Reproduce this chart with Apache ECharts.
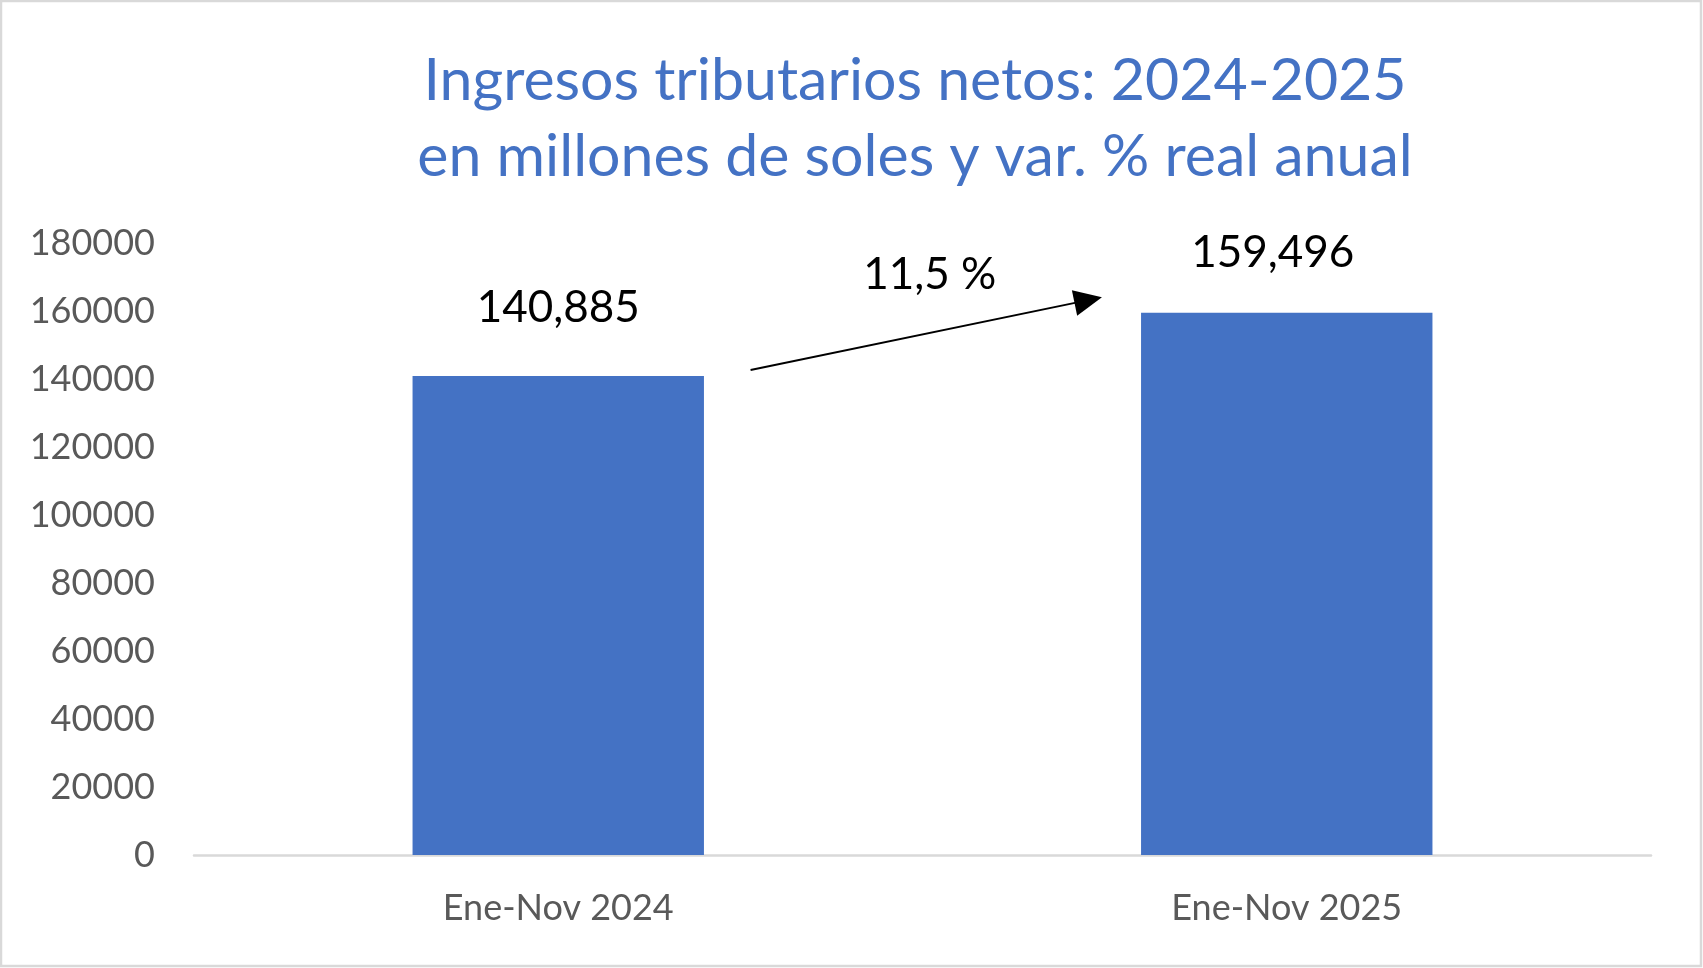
<!DOCTYPE html>
<html>
<head>
<meta charset="utf-8">
<script src="https://cdn.jsdelivr.net/npm/echarts@6/dist/echarts.min.js"></script>
<style>
  html, body { margin: 0; padding: 0; background: #ffffff; }
  #main { width: 1703px; height: 968px; }
</style>
</head>
<body>
<div id="main"></div>
<script>
// categorias y valores (millones de soles)
var categories = ['Ene-Nov 2024', 'Ene-Nov 2025'];
var values = [140885, 159496];
var valueLabels = ['140,885', '159,496'];
var yTicks = [0, 20000, 40000, 60000, 80000, 100000, 120000, 140000, 160000, 180000];

// anotacion: variacion real anual, flecha entre barras (x en indice de categoria)
var growthText = '11,5 %';
var growthAt = [0.51, 170600];
var arrowFrom = [0.264, 142650];
var arrowTo = [0.7275, 163200];

var barColor = '#4472C4';
var labelGap = [46, 38];
var labelShift = [0, -14];
var font = 'Lato';

var chart = echarts.init(document.getElementById('main'));

var option = {
  backgroundColor: '#ffffff',
  animation: false,
  title: {
    text: 'Ingresos tributarios netos: 2024-2025\nen millones de soles y var. % real anual',
    left: 910,
    top: 38,
    textAlign: 'center',
    textStyle: {
      color: barColor,
      fontFamily: font,
      fontSize: 59,
      fontWeight: 'normal',
      lineHeight: 76
    }
  },
  graphic: [
    {
      type: 'rect',
      shape: { x: 1, y: 1, width: 1700, height: 965 },
      style: { fill: 'none', stroke: '#d9d9d9', lineWidth: 2.5 },
      silent: true
    }
  ],
  grid: {
    left: 194,
    right: 52,
    top: 243,
    bottom: 113
  },
  xAxis: [
    {
      type: 'category',
      data: categories,
      axisLine: { show: true, lineStyle: { color: '#d9d9d9', width: 2.5 } },
      axisTick: { show: false },
      axisLabel: {
        color: '#595959',
        fontFamily: font,
        fontSize: 36,
        margin: 35
      },
      splitLine: { show: false }
    },
    {
      type: 'value',
      min: -0.5,
      max: 1.5,
      show: false
    }
  ],
  yAxis: {
    type: 'value',
    min: yTicks[0],
    max: yTicks[yTicks.length - 1],
    interval: yTicks[1] - yTicks[0],
    axisLine: { show: false },
    axisTick: { show: false },
    splitLine: { show: false },
    axisLabel: {
      color: '#595959',
      fontFamily: font,
      fontSize: 36,
      margin: 39,
      formatter: function (v) { return String(v); }
    }
  },
  series: [
    {
      type: 'bar',
      data: values.map(function (v, i) {
        return { value: v, label: { distance: labelGap[i], offset: [labelShift[i], 0] } };
      }),
      barWidth: '40%',
      itemStyle: { color: barColor },
      label: {
        show: true,
        position: 'top',
        color: '#000000',
        fontFamily: font,
        fontSize: 44,
        formatter: function (p) { return valueLabels[p.dataIndex]; }
      }
    },
    {
      type: 'line',
      xAxisIndex: 1,
      data: [],
      silent: true,
      markLine: {
        silent: true,
        symbol: ['none', 'triangle'],
        symbolSize: [26, 28],
        lineStyle: { color: '#000000', width: 2, type: 'solid' },
        label: { show: false },
        data: [[{ coord: arrowFrom }, { coord: arrowTo }]]
      },
      markPoint: {
        silent: true,
        symbol: 'circle',
        symbolSize: 0,
        label: {
          show: true,
          position: 'inside',
          color: '#000000',
          fontFamily: font,
          fontSize: 44,
          formatter: growthText
        },
        data: [{ coord: growthAt }]
      }
    }
  ]
};

chart.setOption(option);
</script>
</body>
</html>
